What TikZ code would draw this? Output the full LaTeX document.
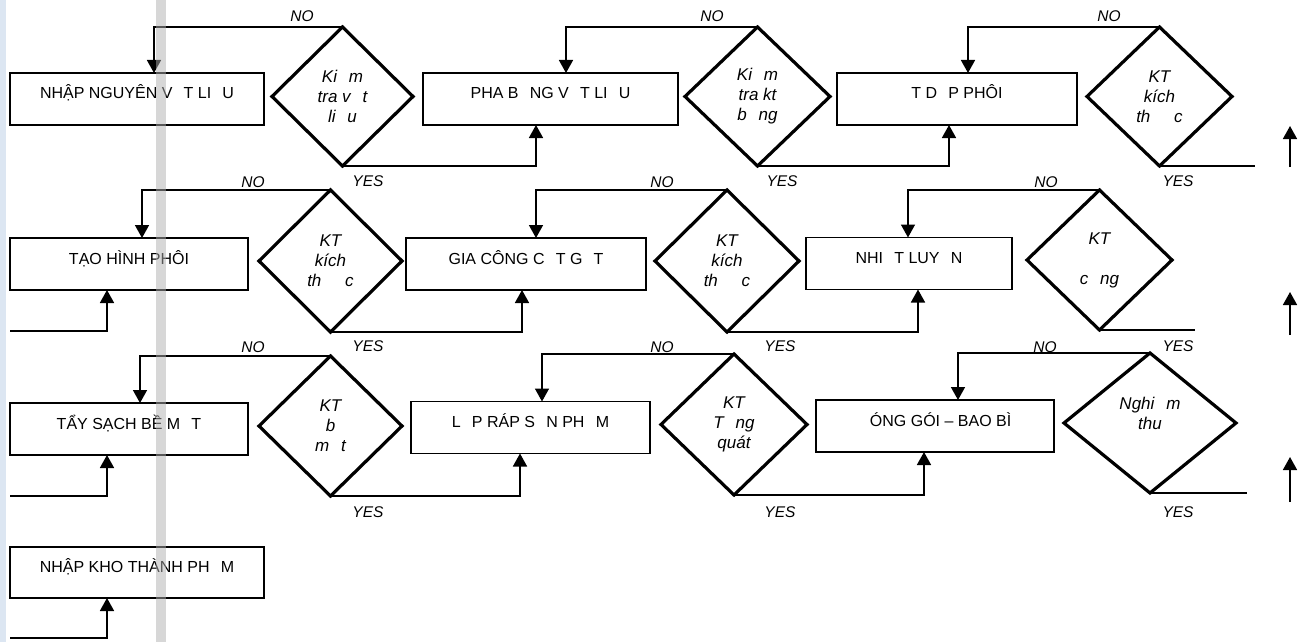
\documentclass[tikz,border=0pt]{standalone}
\usepackage{fontspec}
\setmainfont{Liberation Sans}
\usetikzlibrary{shapes.geometric,arrows.meta}
\newcommand\gp{\hspace{0.7em}}
\definecolor{stripblue}{RGB}{220,230,242}
\definecolor{bargrey}{RGB}{175,175,175}
\begin{document}
\begin{tikzpicture}[x=1pt,y=-1pt,
 procbox/.style={draw,line width=1.6pt,rectangle,inner sep=0pt,outer sep=0pt,minimum height=52pt,text height=6pt,text depth=6pt,font=\fontsize{16}{19}\selectfont},
 check/.style={draw,line width=3.2pt,diamond,inner sep=0pt,outer sep=0pt,align=center,font=\fontsize{17}{20}\selectfont\itshape},
 conn/.style={line width=1.6pt,-{Triangle[width=14pt,length=13pt]}},
 plainline/.style={line width=1.6pt},
 lbl/.style={font=\fontsize{15.5}{15.5}\selectfont\itshape,inner sep=0pt}]
\useasboundingbox (0,0) rectangle (1302,642);
\fill[stripblue] (0,0) rectangle (6,642);

% process boxes
\node[procbox,minimum width=254] (b1) at (137,99) {NHẬP NGUYÊN V\gp T LI\gp U};
\node[procbox,minimum width=255] (b2) at (550.5,99) {PHA B\gp NG V\gp T LI\gp U};
\node[procbox,minimum width=240] (b3) at (957,99) {T D\gp P PHÔI};
\node[procbox,minimum width=238] (b4) at (129,264) {TẠO HÌNH PHÔI};
\node[procbox,minimum width=240] (b5) at (526,264) {GIA CÔNG C\gp T G\gp T};
\node[procbox,minimum width=206] (b6) at (909,263.5) {NHI\gp T LUY\gp N};
\node[procbox,minimum width=238] (b7) at (129,429) {TẨY SẠCH BỀ M\gp T};
\node[procbox,minimum width=239] (b8) at (530.5,427.5) {L\gp P RÁP S\gp N PH\gp M};
\node[procbox,minimum width=238] (b9) at (935,426) {\gp ÓNG GÓI – BAO BÌ};
\node[procbox,minimum width=254,minimum height=51] (b10) at (137,572.5) {NHẬP KHO THÀNH PH\gp M};

% decision diamonds
\node[check,minimum width=141,minimum height=139] (d1) at (342.5,96.5) {Ki\gp m\\tra v\gp t\\li\gp u};
\node[check,minimum width=145,minimum height=139] (d2) at (757.5,96.5) {Ki\gp m\\tra kt\\b\gp ng};
\node[check,minimum width=145,minimum height=139] (d3) at (1159.5,96.5) {KT\\kích\\th\gp\gp c};
\node[check,minimum width=143,minimum height=142] (d4) at (330.5,261) {KT\\kích\\th\gp\gp c};
\node[check,minimum width=144,minimum height=142] (d5) at (727,261) {KT\\kích\\th\gp\gp c};
\node[check,minimum width=145,minimum height=140] (d6) at (1099.5,260) {KT\\~\\c\gp ng};
\node[check,minimum width=143,minimum height=140] (d7) at (330.5,426) {KT\\b\gp\\m\gp t};
\node[check,minimum width=146,minimum height=141] (d8) at (734,424.5) {KT\\T\gp ng\\quát};
\node[check,minimum width=172,minimum height=140] (d9) at (1150,423) {Nghi\gp m\\thu\\~};

% NO branches
\draw[conn] (d1.north) -| ([xshift=17pt]b1.north);
\draw[conn] (d2.north) -| ([xshift=15.5pt]b2.north);
\draw[conn] (d3.north) -| ([xshift=11pt]b3.north);
\draw[conn] (d4.north) -| ([xshift=13pt]b4.north);
\draw[conn] (d5.north) -| ([xshift=10pt]b5.north);
\draw[conn] (d6.north) -| ([xshift=-1pt]b6.north);
\draw[conn] (d7.north) -| ([xshift=11pt]b7.north);
\draw[conn] (d8.north) -| ([xshift=11.5pt]b8.north);
\draw[conn] (d9.north) -| ([xshift=23pt]b9.north);

% YES branches
\draw[conn] (d1.south) -| ([xshift=-14.5pt]b2.south);
\draw[conn] (d2.south) -| ([xshift=-8pt]b3.south);
\draw[conn] (d4.south) -| ([xshift=-4pt]b5.south);
\draw[conn] (d5.south) -| ([xshift=9pt]b6.south);
\draw[conn] (d7.south) -| ([xshift=-10.5pt]b8.south);
\draw[conn] (d8.south) -| ([xshift=-11pt]b9.south);
\coordinate (e3) at (1255,0);
\coordinate (e6) at (1195,0);
\coordinate (e9) at (1247,0);
\draw[plainline] (d3.south) -- (d3.south -| e3);
\draw[plainline] (d6.south) -- (d6.south -| e6);
\draw[plainline] (d9.south) -- (d9.south -| e9);

% incoming from the left
\coordinate (s4) at (10,331);
\coordinate (s7) at (10,496);
\coordinate (s10) at (10,638);
\draw[conn] (s4) -| ([xshift=-22pt]b4.south);
\draw[conn] (s7) -| ([xshift=-22pt]b7.south);
\draw[conn] (s10) -| ([xshift=-30pt]b10.south);

% arrows on the right
\coordinate (r1a) at (1290,167); \coordinate (r1b) at (1290,126);
\coordinate (r2a) at (1290,335); \coordinate (r2b) at (1290,292);
\coordinate (r3a) at (1290,502); \coordinate (r3b) at (1290,457);
\draw[conn] (r1a) -- (r1b);
\draw[conn] (r2a) -- (r2b);
\draw[conn] (r3a) -- (r3b);

% labels
\node[lbl] (no1) at (302,16) {NO};
\node[lbl] (no2) at (712,16) {NO};
\node[lbl] (no3) at (1109,16) {NO};
\node[lbl] (yes1) at (368,181) {YES};
\node[lbl] (yes2) at (782,181) {YES};
\node[lbl] (yes3) at (1178,181) {YES};
\node[lbl] (no4) at (253,182) {NO};
\node[lbl] (no5) at (662,182) {NO};
\node[lbl] (no6) at (1046,182) {NO};
\node[lbl] (yes4) at (368,346) {YES};
\node[lbl] (yes5) at (780,346) {YES};
\node[lbl] (yes6) at (1178,346) {YES};
\node[lbl] (no7) at (253,347) {NO};
\node[lbl] (no8) at (662,347) {NO};
\node[lbl] (no9) at (1045,347) {NO};
\node[lbl] (yes7) at (368,512) {YES};
\node[lbl] (yes8) at (780,512) {YES};
\node[lbl] (yes9) at (1178,512) {YES};

% grey separator bar
\fill[bargrey,opacity=0.5] (156,0) rectangle (166,642);
\end{tikzpicture}
\end{document}
